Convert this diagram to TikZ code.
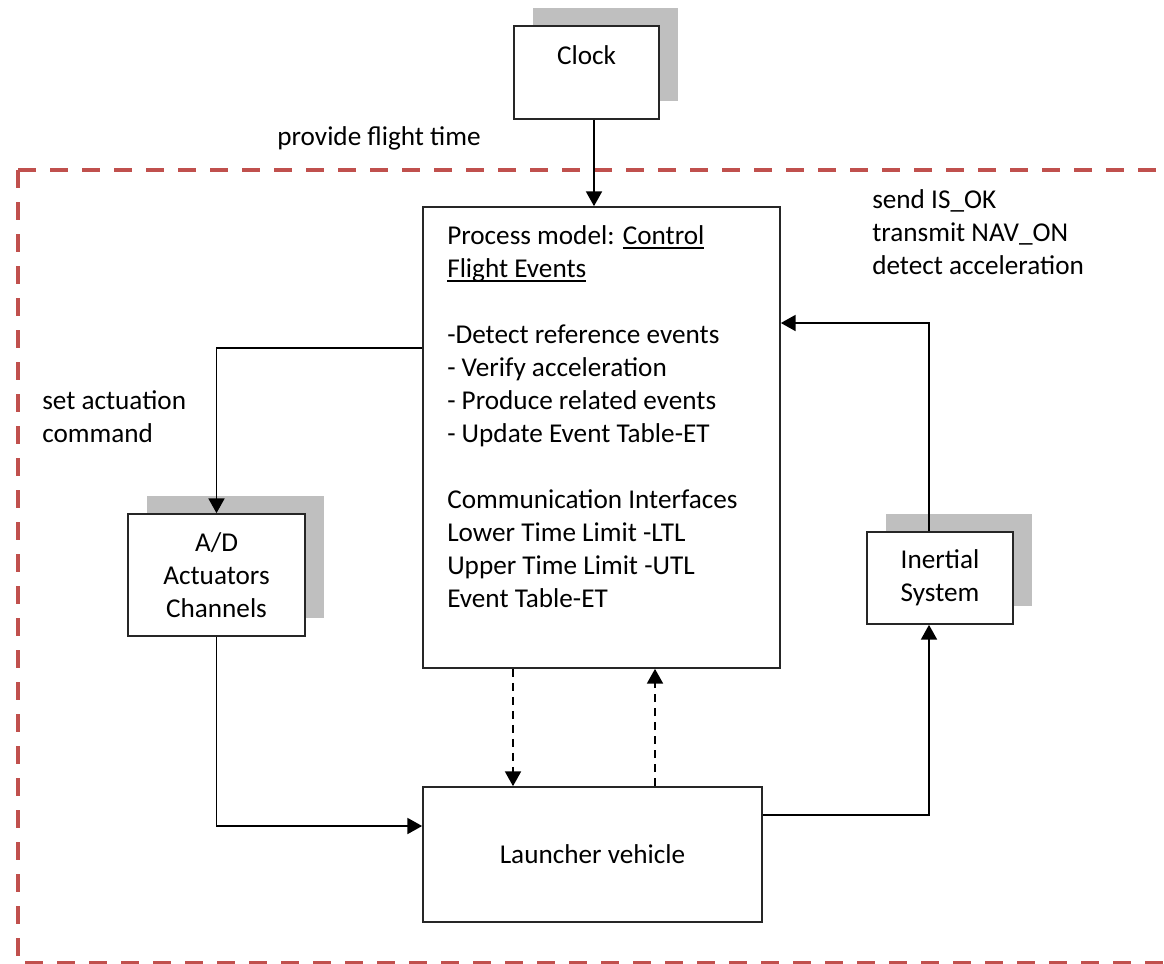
\documentclass[tikz,border=0pt]{standalone}
\usepackage{fontspec}
\setmainfont{Carlito}
\usetikzlibrary{arrows.meta,calc,shadows}
\definecolor{framered}{RGB}{192,80,77}
\definecolor{shadowgray}{RGB}{191,191,191}
\newcommand\uln[1]{\setbox0=\hbox{#1}\rlap{\copy0}\rule[-3.5pt]{\wd0}{1pt}}

\begin{document}
\begin{tikzpicture}[x=0.75pt,y=-0.75pt,>={Triangle[width=12pt,length=11pt]},font=\fontsize{20.4}{24.75}\selectfont]
  \tikzstyle{box}=[draw=black!85,line width=1.3pt,fill=white,align=center,inner sep=0pt]
  \tikzstyle{shade}=[general shadow={fill=shadowgray,shadow xshift=14pt,shadow yshift=13.5pt}]
  \tikzstyle{flow}=[line width=1.1pt,->]
  \tikzstyle{feed}=[line width=1.1pt,->,dash pattern=on 6pt off 4.5pt]
  \tikzstyle{txt}=[align=left,inner sep=0pt]
  \tikzstyle{frame}=[framered,line width=3pt,dash pattern=on 13.5pt off 10.5pt]
  \useasboundingbox (0,0) rectangle (1164,964);
  \clip (0,0) rectangle (1164,964);
  \draw[frame] (18,170) -- (1180,170);
  \draw[frame] (18,170) -- (18,963) -- (1180,963);
  \node[box,shade,minimum width=108.75pt,minimum height=69.75pt] (clock) at (586.5,72.5) {};
  \node[txt] (clocklbl) at (586.5,55) {Clock};
  \node[box,minimum width=267.75pt,minimum height=345.75pt] (proc) at (601.5,437.5) {};
  \node[txt,anchor=north west] (proclbl) at (447,225) {Process model: \uln{Control}\\\uln{Flight Events}\\[24.75pt]-Detect reference events\\- Verify acceleration\\- Produce related events\\- Update Event Table-ET\\[24.75pt]Communication Interfaces\\Lower Time Limit -LTL\\Upper Time Limit -UTL\\Event Table-ET};
  \node[box,shade,minimum width=132.75pt,minimum height=91.5pt] (ad) at (216.5,575) {A/D\\Actuators\\Channels};
  \node[box,shade,minimum width=109.5pt,minimum height=69pt] (ins) at (940,578) {Inertial\\System};
  \node[box,minimum width=254.25pt,minimum height=101.25pt] (lv) at (592.5,854.5) {Launcher vehicle};
  \node[txt] (flighttime) at (379,138) {provide flight time};
  \node[txt,anchor=west] (navmsg) at (872,232) {send IS\_OK\\transmit NAV\_ON\\detect acceleration};
  \node[txt,anchor=west] (actmsg) at (42,416.5) {set actuation\\command};
  \draw[flow] ($(clock.south)+(7.5,0)$) coordinate (c1) -- (c1 |- proc.north);
  \draw[flow] ($(proc.west)+(0,-89.5)$) -| (ad.north);
  \draw[flow] (ad.south) |- ($(lv.west)+(0,-28.5)$);
  \draw[flow] ($(lv.east)+(0,-39.5)$) -| ($(ins.south)+(-11,0)$);
  \draw[flow] ($(ins.north)+(-11,0)$) |- ($(proc.east)+(0,-114.5)$);
  \draw[feed] ($(proc.south)+(-88.5,0)$) coordinate (d1) -- (d1 |- lv.north);
  \draw[feed] ($(lv.north)+(62.5,0)$) coordinate (d2) -- (d2 |- proc.south);
\end{tikzpicture}
\end{document}
